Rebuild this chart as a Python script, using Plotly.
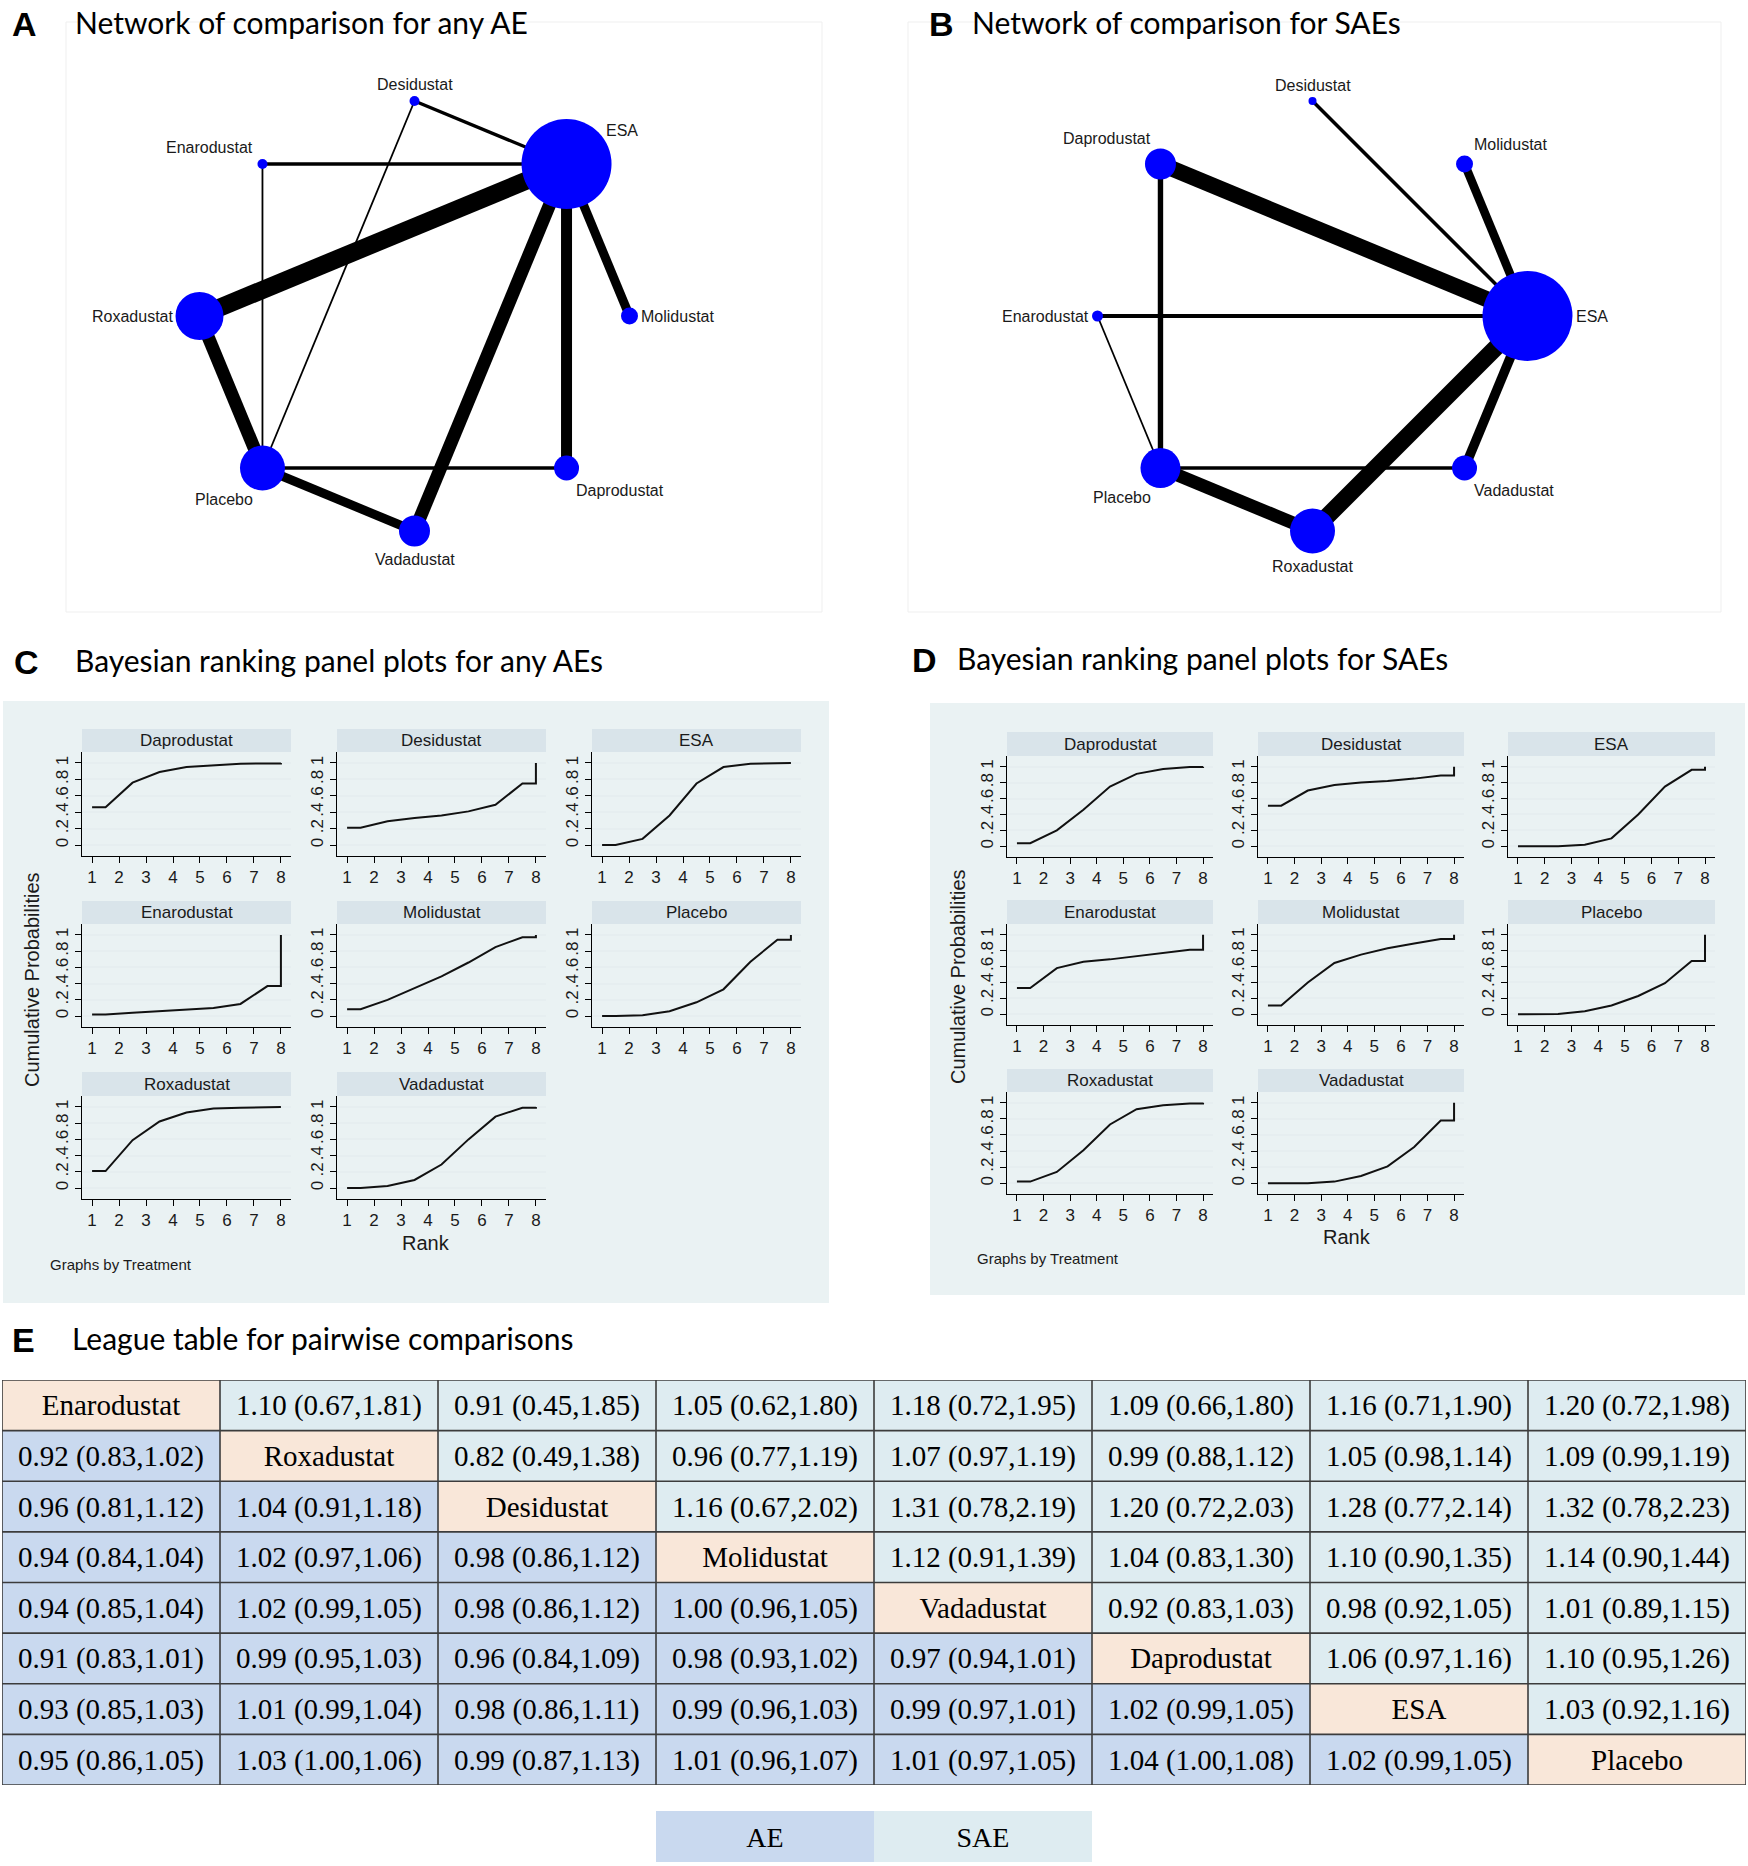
import math
import plotly.graph_objects as go

W, H = 1748, 1866

# ---------------- DATA ----------------
# Network plots (node order going anticlockwise from the top of the circle)
ae_nodes = ["Desidustat", "Enarodustat", "Roxadustat", "Placebo", "Vadadustat", "Daprodustat", "Molidustat", "ESA"]
ae_node_weight = [10, 10, 48, 45, 31, 25, 17, 90]
ae_edge_from = ["Roxadustat", "Roxadustat", "Vadadustat", "Daprodustat", "Molidustat", "Placebo", "Desidustat", "Enarodustat", "Placebo", "Enarodustat", "Desidustat"]
ae_edge_to = ["ESA", "Placebo", "ESA", "ESA", "ESA", "Vadadustat", "ESA", "ESA", "Daprodustat", "Placebo", "Placebo"]
ae_edge_weight = [9, 6.5, 6.5, 5.5, 4.5, 4.5, 1.7, 1.7, 1.7, 0.9, 0.9]

sae_nodes = ["Desidustat", "Daprodustat", "Enarodustat", "Placebo", "Roxadustat", "Vadadustat", "ESA", "Molidustat"]
sae_node_weight = [8, 31, 11, 40, 45, 25, 90, 17]
sae_edge_from = ["Daprodustat", "Roxadustat", "Placebo", "Vadadustat", "Molidustat", "Daprodustat", "Enarodustat", "Desidustat", "Placebo", "Enarodustat"]
sae_edge_to = ["ESA", "ESA", "Roxadustat", "ESA", "ESA", "Placebo", "ESA", "ESA", "Vadadustat", "Placebo"]
sae_edge_weight = [8, 8.5, 6.5, 4.8, 4.3, 2.7, 2, 1.8, 1.8, 0.9]

# Bayesian ranking: cumulative probabilities for ranks 1..8
rank_treatments = ["Daprodustat", "Desidustat", "ESA", "Enarodustat", "Molidustat", "Placebo", "Roxadustat", "Vadadustat"]
ranks = [1, 2, 3, 4, 5, 6, 7, 8]

ae_daprodustat = [0.46, 0.76, 0.89, 0.95, 0.97, 0.99, 0.995, 1.0]
ae_desidustat = [0.21, 0.29, 0.33, 0.36, 0.41, 0.49, 0.75, 1.0]
ae_esa = [0.0, 0.075, 0.36, 0.75, 0.95, 0.99, 1.0, 1.0]
ae_enarodustat = [0.02, 0.04, 0.06, 0.075, 0.10, 0.15, 0.37, 1.0]
ae_molidustat = [0.085, 0.20, 0.35, 0.49, 0.66, 0.85, 0.97, 1.0]
ae_placebo = [0.0, 0.01, 0.06, 0.17, 0.33, 0.67, 0.94, 1.0]
ae_roxadustat = [0.21, 0.59, 0.82, 0.93, 0.98, 0.99, 1.0, 1.0]
ae_vadadustat = [0.0, 0.025, 0.10, 0.29, 0.60, 0.88, 0.99, 1.0]

sae_daprodustat = [0.04, 0.20, 0.46, 0.75, 0.91, 0.97, 0.995, 1.0]
sae_desidustat = [0.51, 0.70, 0.77, 0.80, 0.82, 0.85, 0.89, 1.0]
sae_esa = [0.0, 0.0, 0.02, 0.10, 0.40, 0.75, 0.96, 1.0]
sae_enarodustat = [0.33, 0.58, 0.66, 0.69, 0.73, 0.765, 0.81, 1.0]
sae_molidustat = [0.11, 0.40, 0.645, 0.75, 0.83, 0.89, 0.945, 1.0]
sae_placebo = [0.0, 0.005, 0.04, 0.11, 0.23, 0.39, 0.67, 1.0]
sae_roxadustat = [0.02, 0.14, 0.41, 0.73, 0.92, 0.97, 0.99, 1.0]
sae_vadadustat = [0.0, 0.0, 0.02, 0.09, 0.21, 0.45, 0.78, 1.0]

y_tick_vals = [0, 0.2, 0.4, 0.6, 0.8, 1]
y_tick_text = ["0", ".2", ".4", ".6", ".8", "1"]

# League table
league_treatments = ["Enarodustat", "Roxadustat", "Desidustat", "Molidustat", "Vadadustat", "Daprodustat", "ESA", "Placebo"]
ae_row_roxadustat = ["0.92 (0.83,1.02)"]
ae_row_desidustat = ["0.96 (0.81,1.12)", "1.04 (0.91,1.18)"]
ae_row_molidustat = ["0.94 (0.84,1.04)", "1.02 (0.97,1.06)", "0.98 (0.86,1.12)"]
ae_row_vadadustat = ["0.94 (0.85,1.04)", "1.02 (0.99,1.05)", "0.98 (0.86,1.12)", "1.00 (0.96,1.05)"]
ae_row_daprodustat = ["0.91 (0.83,1.01)", "0.99 (0.95,1.03)", "0.96 (0.84,1.09)", "0.98 (0.93,1.02)", "0.97 (0.94,1.01)"]
ae_row_esa = ["0.93 (0.85,1.03)", "1.01 (0.99,1.04)", "0.98 (0.86,1.11)", "0.99 (0.96,1.03)", "0.99 (0.97,1.01)", "1.02 (0.99,1.05)"]
ae_row_placebo = ["0.95 (0.86,1.05)", "1.03 (1.00,1.06)", "0.99 (0.87,1.13)", "1.01 (0.96,1.07)", "1.01 (0.97,1.05)", "1.04 (1.00,1.08)", "1.02 (0.99,1.05)"]

sae_row_enarodustat = ["1.10 (0.67,1.81)", "0.91 (0.45,1.85)", "1.05 (0.62,1.80)", "1.18 (0.72,1.95)", "1.09 (0.66,1.80)", "1.16 (0.71,1.90)", "1.20 (0.72,1.98)"]
sae_row_roxadustat = ["0.82 (0.49,1.38)", "0.96 (0.77,1.19)", "1.07 (0.97,1.19)", "0.99 (0.88,1.12)", "1.05 (0.98,1.14)", "1.09 (0.99,1.19)"]
sae_row_desidustat = ["1.16 (0.67,2.02)", "1.31 (0.78,2.19)", "1.20 (0.72,2.03)", "1.28 (0.77,2.14)", "1.32 (0.78,2.23)"]
sae_row_molidustat = ["1.12 (0.91,1.39)", "1.04 (0.83,1.30)", "1.10 (0.90,1.35)", "1.14 (0.90,1.44)"]
sae_row_vadadustat = ["0.92 (0.83,1.03)", "0.98 (0.92,1.05)", "1.01 (0.89,1.15)"]
sae_row_daprodustat = ["1.06 (0.97,1.16)", "1.10 (0.95,1.26)"]
sae_row_esa = ["1.03 (0.92,1.16)"]

legend_labels = ["AE", "SAE"]

# ---------------- STYLE ----------------
BLUE = "#0000FF"
STATA_BG = "#EAF2F3"
STRIP = "#D9E4EA"
GRID = "#E6EEF0"
AE_COL = "#C9D9EF"
SAE_COL = "#DEECF1"
DIAG_COL = "#F9E7D9"
SANS = "Liberation Sans"
SERIF = "Liberation Serif"
TITLE_FONT = "Lato"
EDGE_SCALE = 2.0
NODE_SCALE = 1.0


def px(x):
    return x / W


def py(y):
    return 1 - y / H


fig = go.Figure()
axes_layout = {}
shapes = []
annotations = []
counter = [0]


def new_axes(x0, x1, y0, y1):
    counter[0] += 1
    n = counter[0]
    sfx = "" if n == 1 else str(n)
    axes_layout["xaxis" + sfx] = dict(domain=[px(x0), px(x1)], anchor="y" + sfx)
    axes_layout["yaxis" + sfx] = dict(domain=[py(y1), py(y0)], anchor="x" + sfx)
    return "xaxis" + sfx, "yaxis" + sfx, "x" + sfx, "y" + sfx


def title(letter, text, lx, tx, y):
    annotations.append(dict(text="<b>" + letter + "</b>", x=px(lx), y=py(y), xref="paper", yref="paper",
                            xanchor="left", yanchor="middle", showarrow=False,
                            font=dict(family=SANS, size=34, color="black")))
    annotations.append(dict(text=text, x=px(tx), y=py(y - 2), xref="paper", yref="paper",
                            xanchor="left", yanchor="middle", showarrow=False,
                            font=dict(family=TITLE_FONT, size=30, color="black")))


# ---------------- NETWORKS ----------------
def network(order, nweight, efrom, eto, ew, box, cx, cy, R):
    x0, x1, y0, y1 = box
    xa, ya, xr, yr = new_axes(x0, x1, y0, y1)
    axes_layout[xa].update(range=[x0, x1], visible=False, fixedrange=True)
    axes_layout[ya].update(range=[y1, y0], visible=False, fixedrange=True)
    shapes.append(dict(type="rect", xref="paper", yref="paper", x0=px(x0), x1=px(x1), y0=py(y1), y1=py(y0),
                       line=dict(color="#EFEFEF", width=1), fillcolor="rgba(0,0,0,0)", layer="below"))
    pos = {}
    angles = {}
    for i, name in enumerate(order):
        a = 90 + 45 * i
        angles[name] = a % 360
        ar = math.radians(a)
        pos[name] = (cx + R * math.cos(ar), cy - R * math.sin(ar))
    for a, b, w in zip(efrom, eto, ew):
        fig.add_trace(go.Scatter(x=[pos[a][0], pos[b][0]], y=[pos[a][1], pos[b][1]], mode="lines",
                                 line=dict(color="black", width=w * EDGE_SCALE), xaxis=xr, yaxis=yr,
                                 hoverinfo="skip", showlegend=False))
    sizes = [w * NODE_SCALE for w in nweight]
    fig.add_trace(go.Scatter(x=[pos[n][0] for n in order], y=[pos[n][1] for n in order],
                             mode="markers", opacity=1,
                             marker=dict(size=sizes, color=BLUE, opacity=1, line=dict(width=0)),
                             xaxis=xr, yaxis=yr, hoverinfo="skip", showlegend=False))
    # labels
    for name, s in zip(order, sizes):
        r = s / 2
        a = angles[name]
        nx, ny = pos[name]
        if a == 90:
            lx, ly, xa_, ya_ = nx, ny - (r + 2), "center", "bottom"
        elif a == 270:
            lx, ly, xa_, ya_ = nx, ny + (r + 3), "center", "top"
        elif a == 180:
            lx, ly, xa_, ya_ = nx - (r + 2), ny, "right", "middle"
        elif a == 0:
            lx, ly, xa_, ya_ = nx + (r + 2), ny, "left", "middle"
        else:
            c = math.cos(math.radians(a))
            sn = math.sin(math.radians(a))
            dx = 8 + max(0, r - 25) * 1.5
            dy = min(0.9 * r + 2, 24)
            lx = nx + (dx if c > 0 else -dx)
            ly = ny - (dy if sn > 0 else -dy)
            xa_ = "left" if c > 0 else "right"
            ya_ = "bottom" if sn > 0 else "top"
        annotations.append(dict(text=name, x=lx, y=ly, xref=xr, yref=yr, xanchor=xa_, yanchor=ya_,
                                showarrow=False, borderpad=0,
                                font=dict(family=SANS, size=16, color="#1a1a1a")))


title("A", "Network of comparison for any AE", 10, 73, 24)
title("B", "Network of comparison for SAEs", 927, 970, 24)
network(ae_nodes, ae_node_weight, ae_edge_from, ae_edge_to, ae_edge_weight,
        (66, 822, 22, 612), 414.5, 316, 215)
network(sae_nodes, sae_node_weight, sae_edge_from, sae_edge_to, sae_edge_weight,
        (908, 1721, 22, 612), 1312.5, 316, 215)

# ---------------- RANKING PANELS ----------------
ae_cum = [ae_daprodustat, ae_desidustat, ae_esa, ae_enarodustat, ae_molidustat, ae_placebo, ae_roxadustat, ae_vadadustat]
sae_cum = [sae_daprodustat, sae_desidustat, sae_esa, sae_enarodustat, sae_molidustat, sae_placebo, sae_roxadustat, sae_vadadustat]


def rank_path(c):
    xs = [ranks[0], ranks[0] + 0.5] + [r + 0.5 for r in ranks[1:7]] + [ranks[7], ranks[7]]
    ys = [c[0], c[0]] + [c[k] for k in range(1, 7)] + [c[6], c[7]]
    return xs, ys


def ranking_panel(cums, bg, cols, rows, strips, ylab, rank_xy, gbt_xy):
    shapes.append(dict(type="rect", xref="paper", yref="paper", x0=px(bg[0]), x1=px(bg[1]),
                       y0=py(bg[3]), y1=py(bg[2]), fillcolor=STATA_BG, line=dict(width=0), layer="below"))
    for i, (name, c) in enumerate(zip(rank_treatments, cums)):
        col, row = i % 3, i // 3
        x0, x1 = cols[col]
        y0, y1 = rows[row]
        xa, ya, xr, yr = new_axes(x0, x1, y0, y1)
        axes_layout[xa].update(range=[0.626, 8.374], tickvals=ranks, showline=True, linecolor="black",
                               linewidth=1, ticks="outside", ticklen=6, tickcolor="black", showgrid=False,
                               zeroline=False, fixedrange=True,
                               tickfont=dict(family=SANS, size=17, color="#1a1a1a"))
        axes_layout[ya].update(range=[-0.134, 1.134], tickvals=y_tick_vals, ticktext=y_tick_text,
                               tickangle=-90, showline=True, linecolor="black", linewidth=1,
                               ticks="outside", ticklen=6, tickcolor="black", showgrid=True,
                               gridcolor=GRID, gridwidth=2, zeroline=False, fixedrange=True,
                               tickfont=dict(family=SANS, size=17, color="#1a1a1a"))
        xs, ys = rank_path(c)
        fig.add_trace(go.Scatter(x=xs, y=ys, mode="lines", line=dict(color="#111111", width=2),
                                 xaxis=xr, yaxis=yr, hoverinfo="skip", showlegend=False))
        s0, s1 = strips[row]
        shapes.append(dict(type="rect", xref="paper", yref="paper", x0=px(x0), x1=px(x1), y0=py(s1), y1=py(s0),
                           fillcolor=STRIP, line=dict(width=0)))
        annotations.append(dict(text=name, x=px((x0 + x1) / 2), y=py((s0 + s1) / 2), xref="paper", yref="paper",
                                xanchor="center", yanchor="middle", showarrow=False,
                                font=dict(family=SANS, size=17, color="#1a1a1a")))
    annotations.append(dict(text="Cumulative Probabilities", x=px(ylab[0]), y=py(ylab[1]), xref="paper",
                            yref="paper", textangle=-90, showarrow=False, xanchor="center", yanchor="middle",
                            font=dict(family=SANS, size=20, color="#1a1a1a")))
    annotations.append(dict(text="Rank", x=px(rank_xy[0]), y=py(rank_xy[1]), xref="paper", yref="paper",
                            showarrow=False, xanchor="center", yanchor="middle",
                            font=dict(family=SANS, size=20, color="#1a1a1a")))
    annotations.append(dict(text="Graphs by Treatment", x=px(gbt_xy[0]), y=py(gbt_xy[1]), xref="paper",
                            yref="paper", showarrow=False, xanchor="left", yanchor="middle",
                            font=dict(family=SANS, size=15, color="#1a1a1a")))


title("C", "Bayesian ranking panel plots for any AEs", 12, 73, 662)
title("D", "Bayesian ranking panel plots for SAEs", 910, 955, 660)

ranking_panel(ae_cum, (3, 829, 701, 1303),
              [(82, 291), (337, 546), (592, 801)],
              [(752, 856), (924, 1027), (1096, 1199)],
              [(729, 752), (901, 924), (1072, 1096)],
              (32, 980), (426, 1243), (48, 1264))
ranking_panel(sae_cum, (930, 1745, 703, 1295),
              [(1007, 1213), (1258, 1464), (1508, 1715)],
              [(756, 857), (924, 1025), (1092, 1194)],
              [(732, 756), (900, 924), (1069, 1092)],
              (958, 976), (1347, 1237), (975, 1258))

# ---------------- LEAGUE TABLE ----------------
title("E", "League table for pairwise comparisons", 10, 70, 1340)

ae_rows = [[], ae_row_roxadustat, ae_row_desidustat, ae_row_molidustat, ae_row_vadadustat,
           ae_row_daprodustat, ae_row_esa, ae_row_placebo]
sae_rows = [sae_row_enarodustat, sae_row_roxadustat, sae_row_desidustat, sae_row_molidustat,
            sae_row_vadadustat, sae_row_daprodustat, sae_row_esa, []]
n = len(league_treatments)
text_m, z_m = [], []
for i in range(n):
    row_t = ae_rows[i] + [league_treatments[i]] + sae_rows[i]
    row_z = [0] * len(ae_rows[i]) + [2] + [1] * len(sae_rows[i])
    text_m.append(row_t)
    z_m.append(row_z)

cscale = [[0, AE_COL], [0.25, AE_COL], [0.25, SAE_COL], [0.75, SAE_COL], [0.75, DIAG_COL], [1, DIAG_COL]]

TX0, TX1 = 2, 1746
xa, ya, xr, yr = new_axes(TX0, TX1, 1380, 1785)
axes_layout[xa].update(range=[-0.5, n - 0.5], visible=False, fixedrange=True)
axes_layout[ya].update(range=[n - 0.5, -0.5], visible=False, fixedrange=True)
fig.add_trace(go.Heatmap(z=z_m, x=list(range(n)), y=list(range(n)), text=text_m, texttemplate="%{text}",
                         textfont=dict(family=SERIF, size=29, color="black"), colorscale=cscale,
                         zmin=0, zmax=2, showscale=False, hoverinfo="skip", xaxis=xr, yaxis=yr))
for k in range(n + 1):
    shapes.append(dict(type="line", xref=xr, yref=yr, x0=k - 0.5, x1=k - 0.5, y0=-0.5, y1=n - 0.5,
                       line=dict(color="#3c3c3c", width=1.6), layer="above"))
    shapes.append(dict(type="line", xref=xr, yref=yr, x0=-0.5, x1=n - 0.5, y0=k - 0.5, y1=k - 0.5,
                       line=dict(color="#3c3c3c", width=1.6), layer="above"))

# legend boxes, aligned with the 4th and 5th table columns
colw = (TX1 - TX0) / n
xa, ya, xr, yr = new_axes(TX0 + 3 * colw, TX0 + 5 * colw, 1811, 1862)
axes_layout[xa].update(range=[-0.5, 1.5], visible=False, fixedrange=True)
axes_layout[ya].update(range=[0.5, -0.5], visible=False, fixedrange=True)
fig.add_trace(go.Heatmap(z=[[0, 1]], x=[0, 1], y=[0], text=[legend_labels], texttemplate="%{text}",
                         textfont=dict(family=SERIF, size=28, color="black"), colorscale=cscale,
                         zmin=0, zmax=2, showscale=False, hoverinfo="skip", xaxis=xr, yaxis=yr))

fig.update_layout(width=W, height=H, margin=dict(l=0, r=0, t=0, b=0), paper_bgcolor="white",
                  plot_bgcolor="white", showlegend=False, shapes=shapes, annotations=annotations,
                  **axes_layout)
fig.write_html("out.html", config={"displayModeBar": False},
               post_script="document.body.style.margin='0px';document.body.style.padding='0px';")
